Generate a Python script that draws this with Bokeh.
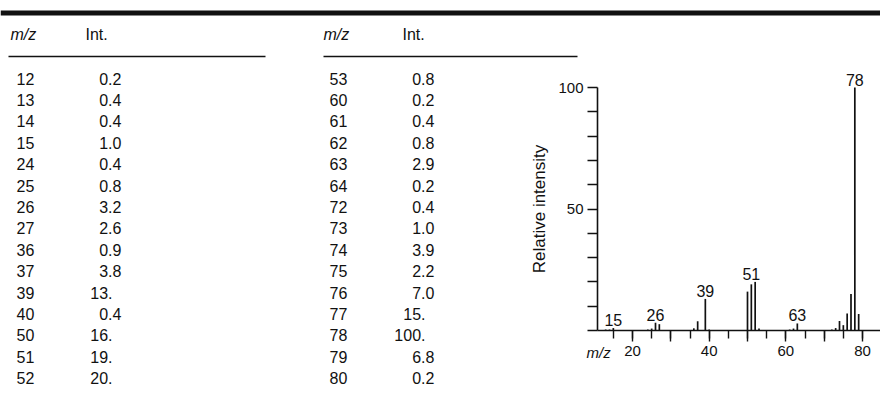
from bokeh.plotting import figure
from bokeh.models import (Range1d, FixedTicker, SingleIntervalTicker, LinearAxis)
from bokeh.core.properties import value
from bokeh.embed import file_html
from bokeh.resources import INLINE

# ---------------- data ----------------
mz = [12, 13, 14, 15, 24, 25, 26, 27, 36, 37, 39, 40, 50, 51, 52,
      53, 60, 61, 62, 63, 64, 72, 73, 74, 75, 76, 77, 78, 79, 80]
intensity = [0.2, 0.4, 0.4, 1.0, 0.4, 0.8, 3.2, 2.6, 0.9, 3.8, 13, 0.4, 16, 19, 20,
             0.8, 0.2, 0.4, 0.8, 2.9, 0.2, 0.4, 1.0, 3.9, 2.2, 7.0, 15, 100, 6.8, 0.2]
labeled_mz = [15, 26, 39, 51, 63, 78]
x_tick_labels = [20, 40, 60, 80]
y_tick_labels = [50, 100]
col_headers = ["m/z", "Int."]
y_label = "Relative intensity"
x_label = "m/z"
rows_per_column = 15

FONT = value("Liberation Sans")
INK = "#111111"
W, H = 880, 398
TFS = "16px"


def fmt_parts(v):
    if v >= 10:
        return f"{int(round(v))}.", ""
    a, b = f"{v:.1f}".split(".")
    return a + ".", b


# Default ranges: canvas pixels (y downwards) for the tables.
p = figure(width=W, height=H, x_range=Range1d(0, W), y_range=Range1d(H, 0),
           output_backend="svg", toolbar_location=None, min_border=0,
           x_axis_type=None, y_axis_type=None)
p.grid.visible = False
p.outline_line_color = None
p.background_fill_color = "white"
p.border_fill_color = "white"

# Spectrum ranges (extra), mapped onto the right part of the canvas
px_x = 230 / 60.0          # pixels per m/z unit
ax_left = 597              # canvas x of the intensity axis
x0 = 20 - 35 / px_x        # m/z at the intensity axis
px_y = 243 / 100.0         # pixels per intensity unit
base_y = 330               # canvas y of the baseline
p.extra_x_ranges = {"mz": Range1d(x0 - ax_left / px_x, x0 + (W - ax_left) / px_x)}
p.extra_y_ranges = {"int": Range1d(-(H - base_y) / px_y, base_y / px_y)}

# heavy top rule
p.quad(left=[0], right=[W], top=[10], bottom=[15], fill_color=INK, line_color=None)

col_defs = [  # (mz_header_x, mz_x, int_header_x, decimal_x, rule_x0, rule_x1)
    (10, 16, 85, 112, 8, 265),
    (323, 329, 402, 425, 323, 577),
]
header_y = 34
rule_y = 56
row0_y = 78
row_dy = 21.4

for ci, (hx, vx, ihx, dx, r0, r1) in enumerate(col_defs):
    p.text(x=[hx], y=[header_y], text=[col_headers[0]], text_font=FONT,
           text_font_size=TFS, text_font_style="italic", text_color=INK,
           text_baseline="middle", text_align="left")
    p.text(x=[ihx], y=[header_y], text=[col_headers[1]], text_font=FONT,
           text_font_size=TFS, text_color=INK,
           text_baseline="middle", text_align="left")
    p.segment(x0=[r0], y0=[rule_y], x1=[r1], y1=[rule_y], line_color=INK, line_width=1.6)
    sub_mz = mz[ci * rows_per_column:(ci + 1) * rows_per_column]
    sub_int = intensity[ci * rows_per_column:(ci + 1) * rows_per_column]
    ys = [row0_y + i * row_dy for i in range(len(sub_mz))]
    ints = [fmt_parts(v)[0] for v in sub_int]
    fracs = [fmt_parts(v)[1] for v in sub_int]
    p.text(x=[vx] * len(ys), y=ys, text=[str(m) for m in sub_mz], text_font=FONT,
           text_font_size=TFS, text_color=INK, text_baseline="middle", text_align="left")
    p.text(x=[dx] * len(ys), y=ys, text=ints, text_font=FONT,
           text_font_size=TFS, text_color=INK, text_baseline="middle", text_align="right")
    p.text(x=[dx] * len(ys), y=ys, text=fracs, text_font=FONT,
           text_font_size=TFS, text_color=INK, text_baseline="middle", text_align="left")

# x-axis name at the left of the spectrum axis
p.text(x=[586], y=[352], text=[x_label], text_font=FONT, text_font_size="15px",
       text_font_style="italic", text_color=INK, text_baseline="middle", text_align="left")

# ---------------- spectrum ----------------
p.segment(x0=mz, y0=[0] * len(mz), x1=mz, y1=intensity, line_color=INK, line_width=1.7,
          x_range_name="mz", y_range_name="int")

lab_y = [max(v for mm, v in zip(mz, intensity) if abs(mm - m) <= 1) for m in labeled_mz]
p.text(x=labeled_mz, y=lab_y, text=[str(m) for m in labeled_mz], text_font=FONT,
       text_font_size=TFS, text_color=INK, text_align="center",
       text_baseline="bottom", y_offset=-2, x_range_name="mz", y_range_name="int")

xa = LinearAxis(x_range_name="mz", y_range_name="int", fixed_location=0,
                bounds=(x0, 90))
xa.ticker = SingleIntervalTicker(interval=10, num_minor_ticks=2)
xa.major_label_overrides = {v: "" for v in range(10, 100, 10) if v not in x_tick_labels}
xa.major_tick_out = 11
xa.major_tick_in = 0
xa.minor_tick_out = 8
xa.minor_tick_in = 0
xa.major_label_standoff = 4
xa.axis_line_width = 1.6
xa.axis_line_color = INK
xa.major_tick_line_color = INK
xa.minor_tick_line_color = INK
xa.major_tick_line_width = 1.4
xa.minor_tick_line_width = 1.4
xa.major_label_text_font = "Liberation Sans"
xa.major_label_text_font_size = "15px"
xa.major_label_text_color = INK
p.add_layout(xa, "below")

ya = LinearAxis(x_range_name="mz", y_range_name="int", fixed_location=x0,
                bounds=(0, 100))
ya.ticker = FixedTicker(ticks=list(range(0, 101, 10)), minor_ticks=[])
ya.major_label_overrides = {v: "" for v in range(0, 101, 10) if v not in y_tick_labels}
ya.major_tick_out = 10
ya.major_tick_in = 0
ya.major_label_standoff = 4
ya.axis_line_width = 1.6
ya.axis_line_color = INK
ya.major_tick_line_color = INK
ya.major_tick_line_width = 1.4
ya.major_label_text_font = "Liberation Sans"
ya.major_label_text_font_size = "15px"
ya.major_label_text_color = INK
ya.axis_label = y_label
ya.axis_label_text_font = "Liberation Sans"
ya.axis_label_text_font_size = "17px"
ya.axis_label_text_font_style = "normal"
ya.axis_label_text_color = INK
ya.axis_label_standoff = 6
p.add_layout(ya, "left")

open("out.html", "w").write(file_html(p, INLINE))
